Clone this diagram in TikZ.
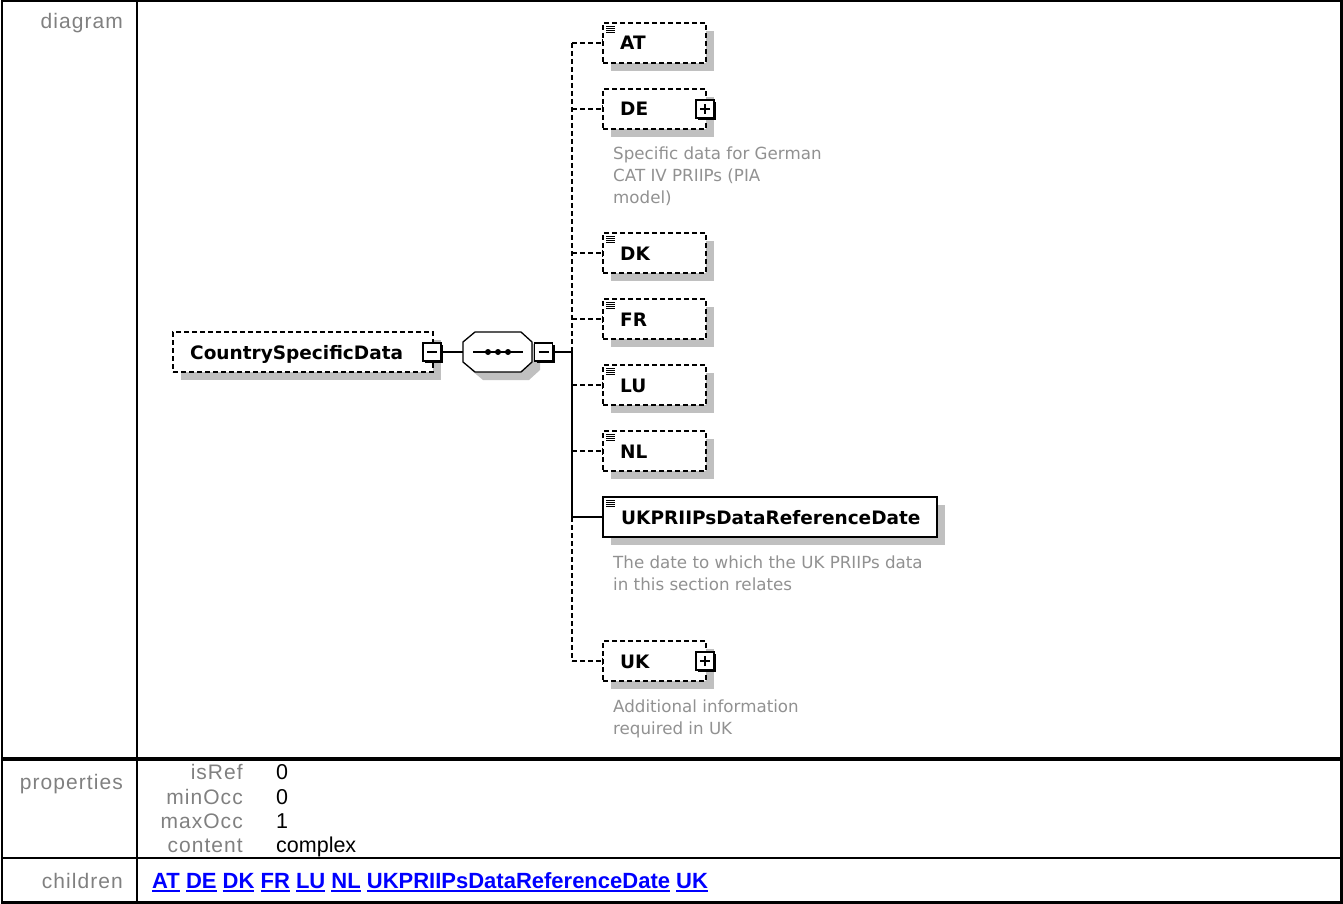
\documentclass[tikz,border=0pt]{standalone}
\usepackage{fontspec}
\setmainfont{Liberation Sans}
\newfontfamily\tah{DejaVu Sans}
\newfontfamily\lbl[LetterSpace=5]{Liberation Sans}
\usetikzlibrary{shadows,arrows.meta}
\definecolor{shadowgray}{RGB}{192,192,192}
\definecolor{descgray}{RGB}{145,145,145}
\definecolor{labelgray}{RGB}{128,128,128}
\definecolor{linkblue}{RGB}{0,0,255}
\newcommand\lnk[1]{\setbox0=\hbox{#1}\rlap{\rule[-4pt]{\wd0}{2.2pt}}\box0\relax}
\newcommand\elicon[1]{\foreach \k in {3,5,7,9}{\draw[line width=0.9pt] ([xshift=3pt,yshift=-\k pt]#1.north west) -- ++(9,0);}}
\begin{document}
\begin{tikzpicture}[x=1pt,y=-1pt,
  elembox/.style={draw, line width=1.4pt, dash pattern=on 5pt off 3pt, fill=white,
    minimum height=40pt, inner sep=0pt, outer sep=0pt, anchor=west,
    general shadow={fill=shadowgray, shadow xshift=8pt, shadow yshift=-8pt}},
  solidbox/.style={elembox, solid},
  elemname/.style={anchor=base west, inner sep=0pt, font=\tah\bfseries\fontsize{18.5}{22}\selectfont},
  desc/.style={anchor=base west, inner sep=0pt, text=descgray, font=\tah\fontsize{16.7}{22}\selectfont},
  togbox/.style={draw, line width=1.2pt, fill=white, minimum size=18pt, inner sep=0pt,
    general shadow={fill=black, shadow xshift=2pt, shadow yshift=-2pt}},
  minusbox/.style={togbox, path picture={\draw[line width=1.3pt]
    ([xshift=-5pt]path picture bounding box.center) -- ([xshift=5pt]path picture bounding box.center);}},
  plusbox/.style={togbox, path picture={\draw[line width=1.3pt]
    ([xshift=-5pt]path picture bounding box.center) -- ([xshift=5pt]path picture bounding box.center)
    ([yshift=-5pt]path picture bounding box.center) -- ([yshift=5pt]path picture bounding box.center);}},
  conn/.style={line width=1.3pt},
  dconn/.style={line width=1.3pt, dash pattern=on 5pt off 3pt},
  tick/.style={-{Bar[width=7pt,line width=1.2pt]}},
  rowlabel/.style={anchor=base east, inner sep=0pt, text=labelgray, font=\lbl\fontsize{21}{25}\selectfont},
  propval/.style={anchor=base west, inner sep=0pt, font=\fontsize{21.5}{25}\selectfont},
]
\useasboundingbox (0,0) rectangle (1343,904);

% table
\draw[line width=2.5pt] (2,1.2) rectangle (1341.5,902.5);
\draw[line width=2pt] (137,1) -- (137,902);
\draw[line width=3.5pt] (2,759) -- (1341.5,759);
\draw[line width=2.5pt] (2,858) -- (1341.5,858);

\node[rowlabel] (l-diagram) at (123,29) {diagram};
\node[rowlabel] (l-properties) at (123,789) {properties};
\node[rowlabel] (l-children) at (123,888) {children};

% properties
\node[rowlabel] (p-isref) at (243,779) {isRef};
\node[rowlabel] (p-minocc) at (243,804) {minOcc};
\node[rowlabel] (p-maxocc) at (243,828) {maxOcc};
\node[rowlabel] (p-content) at (243,852) {content};
\node[propval] (v-isref) at (276,779) {0};
\node[propval] (v-minocc) at (276,804) {0};
\node[propval] (v-maxocc) at (276,828) {1};
\node[propval] (v-content) at (276,852) {complex};

% children links
\node[anchor=base west, inner sep=0pt, text=linkblue, font=\bfseries\fontsize{22}{26}\selectfont] (links) at (152,888)
  {\lnk{AT} \lnk{DE} \lnk{DK} \lnk{FR} \lnk{LU} \lnk{NL} \lnk{UKPRIIPsDataReferenceDate} \lnk{UK}};

% root element
\node[elembox, minimum width=260pt] (csd) at (173,352) {};
\node[elemname] (csd-t) at (190,359) {CountrySpecificData};
\node[minusbox] (csdtog) at (432,352) {};

% sequence compositor
\node[minimum width=69pt, minimum height=40pt, inner sep=0pt] (seq) at (497.5,352) {};
\fill[shadowgray] (483,340) -- (529,340) -- (540,350) -- (540,370) -- (529,380) -- (483,380) -- (471,370) -- (471,350) -- cycle;
\draw[line width=1.3pt, fill=white] (475,332) -- (521,332) -- (532,342) -- (532,362) -- (521,372) -- (475,372) -- (463,362) -- (463,342) -- cycle;
\draw[line width=1.3pt] (473,352) -- (523,352);
\fill (488,352) circle (3) (498,352) circle (3) (508,352) circle (3);
\node[minusbox] (seqtog) at (543.5,352) {};

% children boxes
\node[elembox, minimum width=103pt] (at) at (603,43) {};
\node[elembox, minimum width=103pt] (de) at (603,109) {};
\node[elembox, minimum width=103pt] (dk) at (603,253) {};
\node[elembox, minimum width=103pt] (fr) at (603,319) {};
\node[elembox, minimum width=103pt] (lu) at (603,385) {};
\node[elembox, minimum width=103pt] (nl) at (603,451) {};
\node[solidbox, minimum width=334pt] (ukp) at (603,517) {};
\node[elembox, minimum width=103pt] (uk) at (603,661) {};

\node[plusbox] (detog) at (705,109) {};
\node[plusbox] (uktog) at (705,661) {};

\elicon{at}
\elicon{dk}
\elicon{fr}
\elicon{lu}
\elicon{nl}
\elicon{ukp}

\node[elemname] (at-t) at (620,50) {AT};
\node[elemname] (de-t) at (620,116) {DE};
\node[elemname] (dk-t) at (620,260) {DK};
\node[elemname] (fr-t) at (620,326) {FR};
\node[elemname] (lu-t) at (620,392) {LU};
\node[elemname] (nl-t) at (620,458) {NL};
\node[elemname] (ukp-t) at (621,524) {UKPRIIPsDataReferenceDate};
\node[elemname] (uk-t) at (620,668) {UK};

% descriptions
\node[desc] (de-d1) at (613,160) {Specific data for German};
\node[desc] (de-d2) at (613,182) {CAT IV PRIIPs (PIA};
\node[desc] (de-d3) at (613,204) {model)};
\node[desc] (ukp-d1) at (613,568) {The date to which the UK PRIIPs data};
\node[desc] (ukp-d2) at (613,590) {in this section relates};
\node[desc] (uk-d1) at (613,712) {Additional information};
\node[desc] (uk-d2) at (613,734) {required in UK};

% connectors
\coordinate (b-at) at (572,43);
\coordinate (b-de) at (572,109);
\coordinate (b-dk) at (572,253);
\coordinate (b-fr) at (572,319);
\coordinate (b-seq) at (572,352);
\coordinate (b-lu) at (572,385);
\coordinate (b-nl) at (572,451);
\coordinate (b-ukp) at (572,517);
\coordinate (b-uk) at (572,661);

\draw[conn] (csdtog.east) -- (seq.west);
\draw[conn] (seqtog.east) -- (b-seq);
\draw[dconn] (b-at) -- (b-seq);
\draw[conn] (b-seq) -- (b-ukp);
\draw[dconn] (b-ukp) -- (b-uk);

\draw[dconn, tick] (b-at) -- (at.west);
\draw[dconn, tick] (b-de) -- (de.west);
\draw[dconn, tick] (b-dk) -- (dk.west);
\draw[dconn, tick] (b-fr) -- (fr.west);
\draw[dconn, tick] (b-lu) -- (lu.west);
\draw[dconn, tick] (b-nl) -- (nl.west);
\draw[conn] (b-ukp) -- (ukp.west);
\draw[dconn, tick] (b-uk) -- (uk.west);
\end{tikzpicture}
\end{document}
